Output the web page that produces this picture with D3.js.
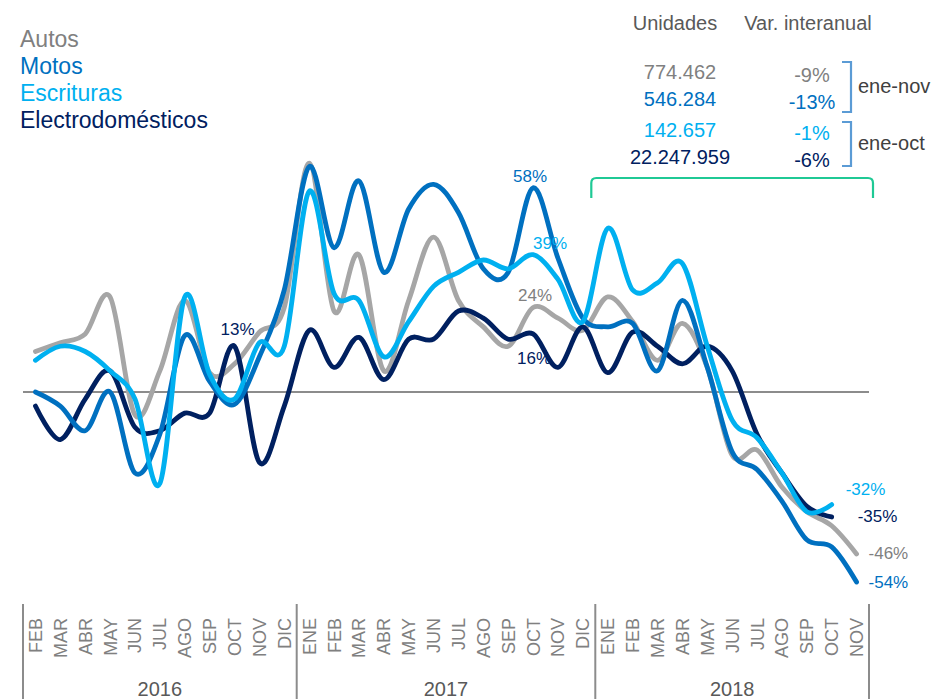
<!DOCTYPE html>
<html>
<head>
<meta charset="utf-8">
<script src="https://cdn.jsdelivr.net/npm/d3@7"></script>
<style>
  body { margin: 0; background: #fff; }
  svg { font-family: "Liberation Sans", Arial, sans-serif; }
</style>
</head>
<body>
<div id="viz"></div>
<script>
// datos: variacion interanual (%) por mes
const months = ["FEB","MAR","ABR","MAY","JUN","JUL","AGO","SEP","OCT","NOV","DIC",
  "ENE","FEB","MAR","ABR","MAY","JUN","JUL","AGO","SEP","OCT","NOV","DIC",
  "ENE","FEB","MAR","ABR","MAY","JUN","JUL","AGO","SEP","OCT","NOV"];
const years = ["2016", "2017", "2018"];
const yearFirst = [0, 11, 23];
const yearLast = [10, 22, 33];

const autos = [11.5, 14, 16.5, 27, -6.5, 6, 26, 5.5, 8, 17, 24,
  65, 23, 39, 6, 26, 44, 26, 18.5, 13, 24, 21, 17.5,
  27, 20, 9, 19.5, 7, -18, -16.5, -27, -34, -38, -46];
const motos = [0, -4, -11, 0, -23, -12, 16, 3, -3.5, 10, 29,
  64, 41, 60, 34, 52, 59, 51, 35, 34, 58, 38, 21,
  18.5, 19.5, 6, 26, 7, -17, -22, -31, -42, -44, -54];
const escrituras = [9, 13, 11.5, 6, -2, -26, 27, 5, -2, 14, 13,
  57, 28, 26, 10, 20, 30, 34, 37.5, 35, 39, 32, 20,
  46.5, 29, 31, 36.5, 13, -8, -13, -23, -34, -32];
const electro = [-4, -13.5, -2, 6, -10, -11, -6, -6, 13, -20, -4,
  17.5, 7, 15.5, 3.5, 15, 15, 23, 21, 15, 16.5, 7, 18.5,
  5.5, 17, 13, 8, 13, 6, -12, -23, -32.5, -35.5];

const seriesNames = ["Autos", "Motos", "Escrituras", "Electrodomésticos"];
const seriesValues = [autos, motos, escrituras, electro];
const lineColors = ["#a6a6a6", "#0070c0", "#00b0f0", "#002060"];
const textColors = ["#808080", "#0070c0", "#00b0f0", "#002060"];

// tabla de arriba a la derecha
const unidades = ["774.462", "546.284", "142.657", "22.247.959"];
const varInteranual = ["-9%", "-13%", "-1%", "-6%"];
const periodos = ["ene-nov", "ene-oct"];

// etiquetas sobre las lineas: serie, mes, texto
const annotations = [
  {s: 3, i: 8, text: "13%", dx: -14, dy: -11},
  {s: 1, i: 20, text: "58%", dx: -20, dy: -6},
  {s: 2, i: 20, text: "39%", dx: 0, dy: -6},
  {s: 0, i: 20, text: "24%", dx: -15, dy: -7},
  {s: 3, i: 20, text: "16%", dx: -16, dy: 30}
];
const endLabels = [
  {s: 2, text: "-32%", dx: 14, dy: -10},
  {s: 3, text: "-35%", dx: 26, dy: 5},
  {s: 0, text: "-46%", dx: 12, dy: 5},
  {s: 1, text: "-54%", dx: 12, dy: 6}
];

const W = 934, H = 699;
const svg = d3.select("#viz").append("svg")
  .attr("width", W).attr("height", H);

const keys = months.map((m, i) => i);
const x = d3.scaleBand().domain(keys).range([23, 869]);
const cx = i => x(i) + x.bandwidth() / 2;
const y = d3.scaleLinear().domain([-60, 70]).range([603.2, 145.6]);

// linea del cero
svg.append("line")
  .attr("x1", x.range()[0]).attr("x2", x.range()[1])
  .attr("y1", y(0)).attr("y2", y(0))
  .attr("stroke", "#8c8c8c").attr("stroke-width", 2);

// lineas suavizadas
const line = d3.line()
  .x((d, i) => cx(i))
  .y(d => y(d))
  .curve(d3.curveCardinal.tension(0));

const drawOrder = [0, 3, 1, 2];
drawOrder.forEach(s => {
  svg.append("path")
    .attr("d", line(seriesValues[s]))
    .attr("fill", "none")
    .attr("stroke", lineColors[s])
    .attr("stroke-width", 4.8)
    .attr("stroke-linecap", "round")
    .attr("stroke-linejoin", "round");
});

// etiquetas de valores
svg.selectAll(".ann")
  .data(annotations)
  .join("text")
  .attr("class", "ann")
  .attr("x", d => cx(d.i) + d.dx)
  .attr("y", d => y(seriesValues[d.s][d.i]) + d.dy)
  .attr("fill", d => textColors[d.s])
  .style("font-size", "17px")
  .text(d => d.text);

svg.selectAll(".endlab")
  .data(endLabels)
  .join("text")
  .attr("class", "endlab")
  .attr("x", d => cx(seriesValues[d.s].length - 1) + d.dx)
  .attr("y", d => y(seriesValues[d.s][seriesValues[d.s].length - 1]) + d.dy)
  .attr("fill", d => textColors[d.s])
  .style("font-size", "17px")
  .text(d => d.text);

// leyenda
svg.selectAll(".legend")
  .data(seriesNames)
  .join("text")
  .attr("class", "legend")
  .attr("x", 20)
  .attr("y", (d, i) => 47 + i * 27)
  .attr("fill", (d, i) => textColors[i])
  .style("font-size", "23px")
  .text(d => d);

// tabla
svg.append("text").attr("x", 675).attr("y", 30).attr("text-anchor", "middle")
  .attr("fill", "#595959").style("font-size", "20px").text("Unidades");
svg.append("text").attr("x", 808).attr("y", 30).attr("text-anchor", "middle")
  .attr("fill", "#595959").style("font-size", "20px").text("Var. interanual");

const rowY = [79, 106, 137, 164];
svg.selectAll(".unid")
  .data(unidades)
  .join("text")
  .attr("class", "unid")
  .attr("x", 680).attr("y", (d, i) => rowY[i])
  .attr("text-anchor", "middle")
  .attr("fill", (d, i) => textColors[i])
  .style("font-size", "20px")
  .text(d => d);
svg.selectAll(".var")
  .data(varInteranual)
  .join("text")
  .attr("class", "var")
  .attr("x", 812).attr("y", (d, i) => rowY[i] + 3)
  .attr("text-anchor", "middle")
  .attr("fill", (d, i) => textColors[i])
  .style("font-size", "20px")
  .text(d => d);

// llaves azules
const brackets = [[62, 112], [122, 166]];
brackets.forEach((b, k) => {
  svg.append("path")
    .attr("d", `M842,${b[0]} H851 V${b[1]} H842`)
    .attr("fill", "none")
    .attr("stroke", "#5b9bd5")
    .attr("stroke-width", 2.2);
  svg.append("text")
    .attr("x", 858).attr("y", (b[0] + b[1]) / 2 + 6)
    .attr("fill", "#404040")
    .style("font-size", "20px")
    .text(periodos[k]);
});

// llave verde sobre 2018
const gx0 = x(yearFirst[2]) - 4, gx1 = x(yearLast[2]) + x.bandwidth() + 4;
svg.append("path")
  .attr("d", `M${gx0},198 V183 Q${gx0},178 ${gx0 + 5},178 H${gx1 - 5} Q${gx1},178 ${gx1},183 V198`)
  .attr("fill", "none")
  .attr("stroke", "#1fc995")
  .attr("stroke-width", 2.2);

// eje x: meses
const xAxis = svg.append("g")
  .attr("transform", "translate(0,618)")
  .call(d3.axisBottom(x).tickSize(0).tickFormat(i => months[i]));
xAxis.select(".domain").remove();
xAxis.selectAll("text")
  .attr("transform", "rotate(-90)")
  .attr("x", 0)
  .attr("y", 0)
  .attr("dy", "0.36em")
  .attr("text-anchor", "end")
  .attr("fill", "#808080")
  .style("font-size", "18px")
  .style("font-family", "'Liberation Sans', Arial, sans-serif");

// separadores de años
const sepX = yearFirst.map(i => x(i)).concat([x(33) + x.bandwidth()]);
svg.selectAll(".sep")
  .data(sepX)
  .join("line")
  .attr("class", "sep")
  .attr("x1", d => d).attr("x2", d => d)
  .attr("y1", 604).attr("y2", H)
  .attr("stroke", "#8c8c8c")
  .attr("stroke-width", 2);

svg.selectAll(".year")
  .data(years)
  .join("text")
  .attr("class", "year")
  .attr("x", (d, k) => (x(yearFirst[k]) + x(yearLast[k]) + x.bandwidth()) / 2)
  .attr("y", 696)
  .attr("text-anchor", "middle")
  .attr("fill", "#595959")
  .style("font-size", "20px")
  .text(d => d);
</script>
</body>
</html>
